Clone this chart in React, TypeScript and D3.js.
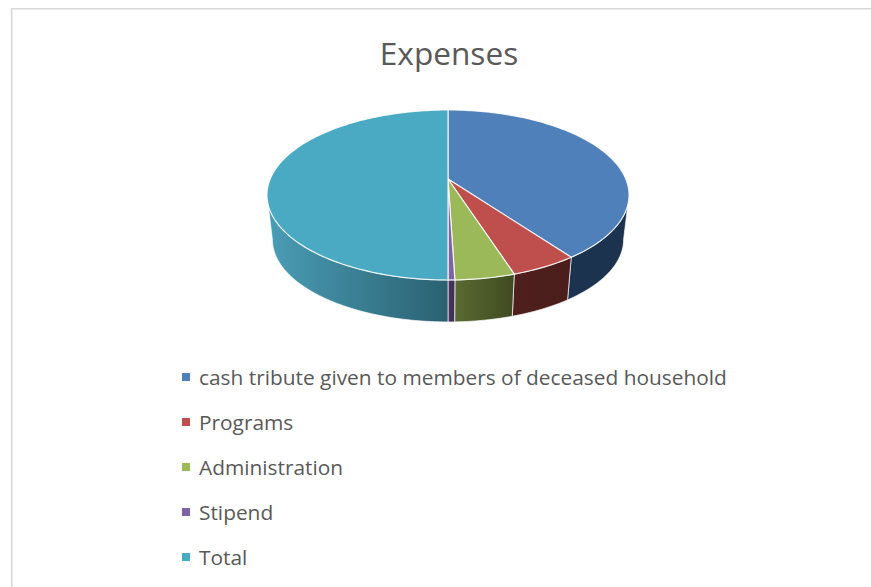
import React from "react";
import * as d3 from "d3";

const categories = ["cash tribute given to members of deceased household", "Programs", "Administration", "Stipend", "Total"];
const values = [40, 5.05, 4.45, 0.5, 50];
const topColors = ["#4F80BA", "#BE4F4C", "#9BB958", "#8064A2", "#4AA9C3"];
const wallFrom = ["#1C3350", "#4A1E1B", "#3F4B20", "#3F2F54", "#2A6171"];
const wallTo = ["#1C3350", "#4F1F1D", "#5A6A32", "#46345C", "#4A9DB6"];
const title = "Expenses";

const W = 871, H = 587;
const cx = 448, apexY = 179;
const k = 0.188, A = 177.8, B = 82;
const wallScale = 0.97, bottomY = 224;
const FONT = "'Open Sans', sans-serif";

type Pt = [number, number];
const project = (t: number, s: number, y0: number): Pt => {
  const u = Math.sin(t), v = -Math.cos(t), w = 1 - k * v;
  return [cx + (s * A * u) / w, y0 + (s * B * v) / w];
};
const arcPts = (a: number, b: number, s: number, y0: number): Pt[] => {
  const n = Math.max(2, Math.ceil(Math.abs(b - a) / 0.02));
  return d3.range(n + 1).map((i) => project(a + ((b - a) * i) / n, s, y0));
};
const line = d3.line<Pt>().x((d) => d[0]).y((d) => d[1]);

const pieGen = d3.pie<number>().sort(null).value((d) => d);
const arcs = pieGen(values);

const xExt = Math.acos(-k);
const visible = (a: number, b: number): [number, number] | null => {
  const lo = Math.max(a, xExt), hi = Math.min(b, 2 * Math.PI - xExt);
  return hi > lo ? [lo, hi] : null;
};

const legendY = d3.scalePoint<string>().domain(categories).range([377, 557]);

export default function App() {
  return (
    <svg width={W} height={H} style={{ position: "absolute", left: 0, top: 0, background: "#fff" }}>
      <defs>
        {arcs.map((d, i) => {
          const vis = visible(d.startAngle, d.endAngle);
          if (!vis) return null;
          const xs = [project(vis[0], 1, apexY)[0], project(vis[1], 1, apexY)[0]];
          return (
            <linearGradient key={i} id={`wall${i}`} gradientUnits="userSpaceOnUse" x1={d3.max(xs)} x2={d3.min(xs)} y1={0} y2={0}>
              <stop offset="0" stopColor={wallFrom[i]} />
              <stop offset="1" stopColor={wallTo[i]} />
            </linearGradient>
          );
        })}
      </defs>
      <path d="M871 8.7H11.7V587" fill="none" stroke="#D9D9D9" strokeWidth={1.6} />
      <text x={449} y={64.5} textAnchor="middle" fontFamily={FONT} fontSize={31.6} fill="#595959">{title}</text>

      {arcs.map((d, i) => {
        const vis = visible(d.startAngle, d.endAngle);
        if (!vis) return null;
        const pts = [...arcPts(vis[0], vis[1], 1, apexY), ...arcPts(vis[1], vis[0], wallScale, bottomY)];
        return <path key={i} d={line(pts) + "Z"} fill={`url(#wall${i})`} stroke="#fff" strokeOpacity={0.75} strokeWidth={0.9} strokeLinejoin="round" />;
      })}
      {arcs.map((d, i) => {
        const pts: Pt[] = [[cx, apexY], ...arcPts(d.startAngle, d.endAngle, 1, apexY)];
        return <path key={i} d={line(pts) + "Z"} fill={topColors[i]} stroke="#fff" strokeOpacity={0.85} strokeWidth={1.2} strokeLinejoin="round" />;
      })}

      {categories.map((c, i) => {
        const y = legendY(c) as number;
        return (
          <g key={c}>
            <rect x={182} y={y - 4} width={8} height={8} fill={topColors[i]} />
            <text x={199} y={y + 7.5} fontFamily={FONT} fontSize={20.87} fill="#595959">{c}</text>
          </g>
        );
      })}
    </svg>
  );
}
